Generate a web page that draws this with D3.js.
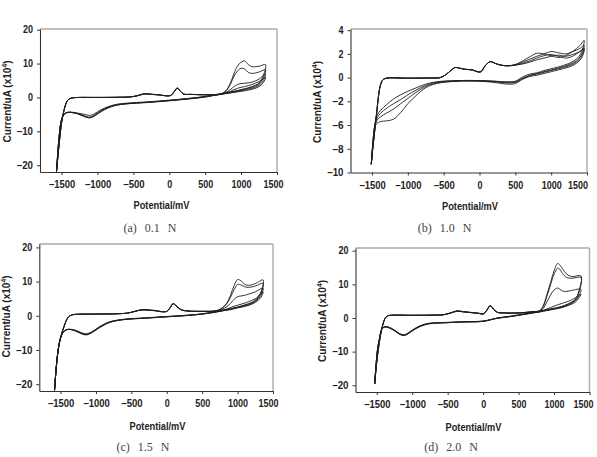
<!DOCTYPE html>
<html>
<head>
<meta charset="utf-8">
<script src="https://cdnjs.cloudflare.com/ajax/libs/d3/7.8.5/d3.min.js"></script>
<style>
  body { margin: 0; background: #fff; }
  .tick text, .axis-title {
    font-family: "Liberation Sans", Arial, sans-serif;
    font-weight: bold;
    fill: #222;
  }
  .tick text { font-size: 10.3px; }
  .axis-title { font-size: 10.5px; }
  .caption { font-family: "Liberation Serif", "DejaVu Serif", serif; font-size: 12px; fill: #444; word-spacing: 5px; }
  .domain, .tick line { stroke: #333; }
  .frame { stroke: #aaa; stroke-width: 1.4; }
  .cv { fill: none; stroke: #1e1e1e; stroke-width: 0.9; }
</style>
</head>
<body>
<svg id="chart" width="597" height="457"></svg>
<script>
// tick values shared by the four panels
var xTicks = [-1500, -1000, -500, 0, 500, 1000, 1500];
var yTicks20 = [20, 10, 0, -10, -20];
// panel (b) axis is printed with these labels at even 2-unit steps
var yTicksB = [4, 2, 0, -2, -4, -6, -8];
var yLabelsB = ["4", "2", "0", "\u22122", "\u22126", "\u22128", "\u221210"];
var captions = ["(a) 0.1 N", "(b) 1.0 N", "(c) 1.5 N", "(d) 2.0 N"];

// (a) 0.1 N : anodic sweep potentials (mV) and currents (x10^4 uA), one row per cycle
var aFwdE = [-1570, -1530, -1500, -1470, -1445, -1420, -1390, -1340, -1250, -1000, -700, -550, -450, -350, -250, -150, -50, 20, 70, 110, 150, 200, 300, 500, 700, 780, 850, 900, 950, 1000, 1050, 1100, 1150, 1250, 1340];
var aFwdI = [
  [-21.8, -13, -7.5, -4.2, -2.2, -1.0, -0.4, -0.1, 0, 0, 0.05, 0.15, 0.5, 1.1, 0.95, 0.8, 0.5, 0.6, 1.8, 2.8, 2.0, 1.0, 0.9, 0.8, 0.9, 1.8, 4.2, 7.0, 9.3, 10.4, 10.8, 9.7, 9.1, 9.2, 9.7],
  [-21.8, -13, -7.5, -4.2, -2.2, -1.0, -0.4, -0.1, 0, 0, 0.05, 0.15, 0.5, 1.1, 0.95, 0.8, 0.5, 0.6, 1.8, 2.8, 2.0, 1.0, 0.9, 0.8, 0.9, 1.7, 3.8, 6.2, 7.8, 8.6, 8.4, 7.4, 7.1, 7.5, 8.2],
  [-21.8, -13, -7.5, -4.2, -2.2, -1.0, -0.4, -0.1, 0, 0, 0.05, 0.15, 0.45, 1.0, 0.9, 0.75, 0.5, 0.6, 1.7, 2.7, 1.9, 1.0, 0.9, 0.8, 0.9, 1.4, 2.3, 3.2, 3.8, 4.1, 4.2, 4.3, 4.5, 5.4, 7.0],
  [-21.8, -13, -7.5, -4.2, -2.2, -1.0, -0.4, -0.1, 0, 0, 0.05, 0.15, 0.45, 1.0, 0.9, 0.75, 0.5, 0.6, 1.7, 2.7, 1.9, 1.0, 0.9, 0.8, 0.85, 1.2, 1.8, 2.3, 2.7, 3.0, 3.2, 3.5, 3.8, 4.7, 6.0]
];
// (a) cathodic sweep
var aRevE = [1340, 1310, 1250, 1150, 1000, 850, 700, 500, 250, 0, -300, -600, -750, -850, -950, -1050, -1110, -1180, -1280, -1380, -1440, -1480, -1510, -1540, -1570];
var aRevI = [
  [9.7, 6.5, 4.3, 3.2, 2.3, 1.6, 1.1, 0.3, -0.3, -0.8, -1.3, -1.7, -2.1, -2.7, -3.6, -4.9, -5.3, -5.0, -4.6, -4.3, -4.5, -5.4, -7.5, -13, -21.8],
  [8.2, 5.8, 4.0, 3.0, 2.2, 1.5, 1.0, 0.2, -0.4, -0.9, -1.4, -1.8, -2.2, -2.9, -3.9, -5.3, -5.8, -5.4, -4.7, -4.4, -4.6, -5.5, -7.5, -13, -21.8],
  [7.0, 5.0, 3.6, 2.7, 2.0, 1.4, 0.9, 0.2, -0.4, -0.9, -1.4, -1.9, -2.3, -3.0, -4.1, -5.5, -6.0, -5.6, -4.8, -4.4, -4.6, -5.5, -7.5, -13, -21.8],
  [6.0, 4.4, 3.2, 2.4, 1.8, 1.3, 0.9, 0.1, -0.5, -1.0, -1.5, -1.9, -2.4, -3.1, -4.2, -5.6, -6.0, -5.7, -4.8, -4.4, -4.6, -5.5, -7.5, -13, -21.8]
];

// (b) 1.0 N
var bFwdE = [-1510, -1490, -1470, -1450, -1430, -1410, -1385, -1350, -1300, -1000, -700, -550, -470, -400, -340, -280, -200, -100, -30, 20, 80, 150, 220, 300, 400, 500, 600, 700, 800, 900, 1000, 1100, 1200, 1300, 1400, 1460];
var bFwdI = [
  [-7.3, -6.0, -4.9, -3.8, -2.7, -1.6, -0.7, -0.2, -0.05, -0.05, -0.03, 0.0, 0.25, 0.6, 0.85, 0.8, 0.7, 0.65, 0.5, 0.5, 1.0, 1.35, 1.2, 1.05, 1.0, 1.1, 1.4, 1.75, 2.05, 2.0, 1.85, 1.7, 1.85, 2.2, 2.7, 3.15],
  [-7.3, -6.0, -4.9, -3.8, -2.7, -1.6, -0.7, -0.2, -0.05, -0.05, -0.03, 0.0, 0.25, 0.6, 0.85, 0.8, 0.7, 0.65, 0.5, 0.5, 1.0, 1.35, 1.2, 1.05, 1.0, 1.1, 1.3, 1.55, 1.8, 2.0, 2.2, 2.1, 2.0, 2.2, 2.45, 2.75],
  [-7.3, -6.0, -4.9, -3.8, -2.7, -1.6, -0.7, -0.2, -0.05, -0.05, -0.03, 0.0, 0.25, 0.6, 0.85, 0.8, 0.7, 0.65, 0.5, 0.5, 1.0, 1.35, 1.2, 1.05, 1.0, 1.05, 1.2, 1.4, 1.65, 1.85, 1.95, 1.8, 1.65, 1.8, 2.2, 2.5],
  [-7.3, -6.0, -4.9, -3.8, -2.7, -1.6, -0.7, -0.2, -0.05, -0.05, -0.03, 0.0, 0.25, 0.6, 0.85, 0.8, 0.7, 0.65, 0.5, 0.5, 1.0, 1.35, 1.2, 1.05, 1.0, 1.05, 1.15, 1.3, 1.5, 1.65, 1.8, 1.9, 1.8, 1.95, 2.2, 2.4]
];
var bRevE = [1460, 1420, 1350, 1250, 1100, 1000, 900, 800, 700, 600, 500, 400, 200, 0, -300, -600, -750, -900, -1000, -1100, -1200, -1300, -1380, -1430, -1460, -1490, -1510];
var bRevI = [
  [3.15, 2.1, 1.55, 1.2, 0.9, 0.75, 0.6, 0.4, 0.3, 0.05, -0.3, -0.35, -0.3, -0.25, -0.25, -0.35, -0.55, -0.9, -1.15, -1.45, -1.8, -2.3, -2.75, -3.2, -3.9, -5.6, -7.3],
  [2.75, 1.9, 1.4, 1.1, 0.8, 0.65, 0.5, 0.35, 0.2, -0.05, -0.35, -0.4, -0.3, -0.25, -0.25, -0.4, -0.65, -1.1, -1.45, -1.85, -2.2, -2.6, -3.0, -3.4, -4.0, -5.7, -7.3],
  [2.5, 1.75, 1.3, 1.0, 0.75, 0.6, 0.45, 0.3, 0.15, -0.1, -0.4, -0.45, -0.35, -0.3, -0.3, -0.45, -0.75, -1.3, -1.75, -2.2, -2.65, -3.0, -3.3, -3.6, -4.1, -5.7, -7.3],
  [2.4, 1.6, 1.2, 0.9, 0.65, 0.5, 0.35, 0.2, 0.1, -0.15, -0.5, -0.55, -0.4, -0.3, -0.3, -0.5, -0.85, -1.6, -2.2, -2.95, -3.5, -3.65, -3.7, -3.85, -4.2, -5.8, -7.3]
];

// (c) 1.5 N
var cFwdE = [-1585, -1560, -1530, -1500, -1470, -1440, -1410, -1380, -1330, -1250, -1000, -700, -550, -450, -350, -250, -150, -80, 0, 50, 90, 130, 200, 300, 500, 700, 780, 850, 900, 950, 1000, 1050, 1100, 1150, 1250, 1360];
var cFwdI = [
  [-21.8, -15, -9.5, -6.5, -4.3, -2.5, -1.0, -0.2, 0.3, 0.45, 0.5, 0.6, 0.8, 1.3, 1.8, 1.7, 1.5, 1.25, 1.3, 2.5, 3.6, 3.0, 1.8, 1.4, 1.3, 1.5, 2.3, 3.8, 6.0, 8.8, 10.6, 10.2, 9.2, 8.9, 9.4, 10.5],
  [-21.8, -15, -9.5, -6.5, -4.3, -2.5, -1.0, -0.2, 0.3, 0.45, 0.5, 0.6, 0.8, 1.3, 1.8, 1.7, 1.5, 1.25, 1.3, 2.5, 3.6, 3.0, 1.8, 1.4, 1.3, 1.5, 2.2, 3.6, 5.4, 7.6, 9.2, 9.0, 8.5, 8.3, 8.7, 9.5],
  [-21.8, -15, -9.5, -6.5, -4.3, -2.5, -1.0, -0.2, 0.3, 0.45, 0.5, 0.6, 0.8, 1.3, 1.7, 1.6, 1.45, 1.2, 1.3, 2.4, 3.5, 2.9, 1.8, 1.4, 1.3, 1.4, 1.9, 2.7, 3.6, 4.8, 5.6, 5.8, 6.0, 6.3, 7.0, 8.1],
  [-21.8, -15, -9.5, -6.5, -4.3, -2.5, -1.0, -0.2, 0.3, 0.45, 0.5, 0.6, 0.8, 1.3, 1.7, 1.6, 1.45, 1.2, 1.3, 2.4, 3.5, 2.9, 1.8, 1.4, 1.3, 1.3, 1.6, 2.0, 2.4, 2.8, 3.1, 3.4, 3.7, 4.1, 5.0, 7.0]
];
var cRevE = [1360, 1330, 1250, 1150, 1000, 900, 800, 700, 500, 300, 0, -300, -600, -800, -900, -980, -1060, -1140, -1200, -1280, -1360, -1420, -1460, -1500, -1530, -1560, -1585];
var cRevI = [
  [10.5, 7.0, 4.6, 3.5, 2.6, 2.1, 1.7, 1.3, 0.6, 0.2, -0.2, -0.6, -1.0, -1.7, -2.6, -3.6, -4.7, -5.3, -5.0, -4.3, -3.95, -4.1, -4.8, -6.5, -9.5, -15, -21.8],
  [9.5, 6.6, 4.4, 3.4, 2.5, 2.0, 1.6, 1.2, 0.55, 0.15, -0.25, -0.65, -1.05, -1.8, -2.7, -3.7, -4.8, -5.4, -5.1, -4.4, -4.0, -4.1, -4.8, -6.5, -9.5, -15, -21.8],
  [8.1, 6.0, 4.2, 3.2, 2.4, 1.9, 1.5, 1.1, 0.5, 0.1, -0.3, -0.7, -1.1, -1.85, -2.8, -3.8, -4.9, -5.5, -5.2, -4.5, -4.0, -4.1, -4.8, -6.5, -9.5, -15, -21.8],
  [7.0, 5.4, 3.9, 3.0, 2.3, 1.8, 1.5, 1.1, 0.5, 0.1, -0.3, -0.7, -1.1, -1.9, -2.9, -3.9, -5.0, -5.6, -5.3, -4.5, -4.0, -4.1, -4.8, -6.5, -9.5, -15, -21.8]
];

// (d) 2.0 N
var dFwdE = [-1530, -1505, -1480, -1455, -1430, -1405, -1380, -1350, -1300, -1000, -700, -550, -450, -370, -280, -150, -60, 0, 50, 100, 150, 200, 300, 500, 700, 800, 850, 900, 950, 1000, 1050, 1080, 1120, 1180, 1250, 1380];
var dFwdI = [
  [-19.6, -14, -9.5, -6.0, -3.3, -1.3, 0.0, 0.6, 0.8, 0.8, 0.85, 1.0, 1.6, 2.1, 1.9, 1.6, 1.4, 1.2, 2.3, 3.7, 2.6, 1.7, 1.5, 1.5, 1.9, 2.2, 3.8, 7.0, 10.5, 14.0, 16.2, 15.8, 14.6, 13.0, 12.3, 12.5],
  [-19.6, -14, -9.5, -6.0, -3.3, -1.3, 0.0, 0.6, 0.8, 0.8, 0.85, 1.0, 1.6, 2.1, 1.9, 1.6, 1.4, 1.2, 2.3, 3.7, 2.6, 1.7, 1.5, 1.5, 1.9, 2.1, 3.5, 6.5, 9.8, 13.0, 14.8, 14.5, 13.2, 12.0, 11.8, 12.0],
  [-19.6, -14, -9.5, -6.0, -3.3, -1.3, 0.0, 0.6, 0.8, 0.8, 0.85, 1.0, 1.5, 2.0, 1.8, 1.55, 1.35, 1.2, 2.2, 3.6, 2.5, 1.7, 1.5, 1.5, 1.8, 2.0, 2.9, 4.8, 6.8, 8.3, 8.9, 8.6, 8.0, 7.9, 8.2, 8.5],
  [-19.6, -14, -9.5, -6.0, -3.3, -1.3, 0.0, 0.6, 0.8, 0.8, 0.85, 1.0, 1.5, 2.0, 1.8, 1.55, 1.35, 1.2, 2.2, 3.6, 2.5, 1.7, 1.5, 1.5, 1.7, 1.8, 2.2, 2.7, 3.1, 3.5, 3.9, 4.1, 4.4, 4.8, 5.4, 7.0]
];
var dRevE = [1380, 1350, 1300, 1200, 1100, 1000, 900, 800, 650, 400, 200, 0, -300, -500, -700, -800, -900, -1000, -1070, -1120, -1180, -1250, -1330, -1390, -1430, -1460, -1490, -1530];
var dRevI = [
  [12.5, 8.0, 5.6, 4.2, 3.4, 2.9, 2.5, 2.1, 1.5, 0.6, 0.0, -0.9, -1.1, -1.3, -1.45, -1.7, -2.4, -3.6, -4.6, -5.0, -4.6, -3.6, -2.7, -2.6, -3.3, -6.0, -9.5, -19.6],
  [12.0, 7.5, 5.4, 4.1, 3.3, 2.8, 2.4, 2.0, 1.4, 0.5, -0.05, -0.95, -1.15, -1.35, -1.5, -1.8, -2.5, -3.7, -4.7, -5.1, -4.7, -3.7, -2.8, -2.65, -3.3, -6.0, -9.5, -19.6],
  [8.5, 6.6, 5.1, 3.9, 3.2, 2.7, 2.3, 1.9, 1.35, 0.5, -0.05, -1.0, -1.2, -1.4, -1.55, -1.85, -2.6, -3.8, -4.8, -5.2, -4.8, -3.8, -2.9, -2.7, -3.35, -6.0, -9.5, -19.6],
  [7.0, 5.9, 4.7, 3.7, 3.0, 2.6, 2.2, 1.8, 1.3, 0.45, -0.1, -1.0, -1.2, -1.4, -1.6, -1.9, -2.65, -3.85, -4.85, -5.2, -4.8, -3.8, -2.9, -2.7, -3.35, -6.0, -9.5, -19.6]
];

// layout of the four panels (pixel boxes, label anchors)
var panels = [
  { fwdE: aFwdE, fwdI: aFwdI, revE: aRevE, revI: aRevI, yDomain: [-22, 20.2], yTicks: yTicks20, yLabels: null,
    left: 40, right: 277, top: 29, bottom: 172, lastDx: 6, yTitle: [7.5, 101.5], xTitle: [161.5, 208.5], cap: [150, 232] },
  { fwdE: bFwdE, fwdI: bFwdI, revE: bRevE, revI: bRevI, yDomain: [-8, 4.1], yTicks: yTicksB, yLabels: yLabelsB,
    left: 350.5, right: 587, top: 29, bottom: 172.5, lastDx: 0.5, yTitle: [317.5, 102], xTitle: [470, 210], cap: [444.5, 232] },
  { fwdE: cFwdE, fwdI: cFwdI, revE: cRevE, revI: cRevI, yDomain: [-22, 21], yTicks: yTicks20, yLabels: null,
    left: 39.3, right: 273, top: 244, bottom: 391, lastDx: 5, yTitle: [6, 316.5], xTitle: [157.5, 430], cap: [143, 451] },
  { fwdE: dFwdE, fwdI: dFwdI, revE: dRevE, revI: dRevI, yDomain: [-22, 20.8], yTicks: yTicks20, yLabels: null,
    left: 355.5, right: 589.5, top: 248, bottom: 392, lastDx: 3.5, yTitle: [322.5, 321], xTitle: [473.5, 430.5], cap: [451, 451] }
];

var svg = d3.select("#chart");
var fmt = d3.format("d");

// the original uses a condensed bold face; squeeze the tick labels to its width
function squeeze(texts) {
  texts.each(function () {
    var t = d3.select(this);
    var s = t.text();
    var neg = s.charAt(0) === "\u2212";
    var w = (s.length - (neg ? 1 : 0)) * 5 + (neg ? 6.5 : 0);
    t.attr("textLength", w).attr("lengthAdjust", "spacingAndGlyphs");
  });
}

function drawPanel(p, idx) {
  var x = d3.scaleLinear().domain([-1800, 1500]).range([p.left, p.right]);
  var y = d3.scaleLinear().domain(p.yDomain).range([p.bottom, p.top]);
  var g = svg.append("g");

  // grey frame on top and right
  g.append("line").attr("class", "frame")
    .attr("x1", p.left).attr("x2", p.right).attr("y1", p.top).attr("y2", p.top);
  g.append("line").attr("class", "frame")
    .attr("x1", p.right).attr("x2", p.right).attr("y1", p.top).attr("y2", p.bottom);

  // axes
  var xg = g.append("g")
    .attr("transform", "translate(0," + p.bottom + ")")
    .call(d3.axisBottom(x).tickValues(xTicks).tickSize(3).tickSizeOuter(0).tickPadding(6).tickFormat(fmt));
  squeeze(xg.selectAll(".tick text"));
  // last label sits inside the page, pulled left like the original
  xg.selectAll(".tick text")
    .filter(function (d) { return d === 1500; })
    .attr("text-anchor", "end")
    .attr("dx", p.lastDx);

  var yAxis = d3.axisLeft(y).tickValues(p.yTicks).tickSize(3).tickSizeOuter(0).tickPadding(4);
  if (p.yLabels) {
    yAxis.tickFormat(function (d, i) { return p.yLabels[i]; });
  } else {
    yAxis.tickFormat(fmt);
  }
  var yg = g.append("g")
    .attr("transform", "translate(" + p.left + ",0)")
    .call(yAxis);
  squeeze(yg.selectAll(".tick text"));
  g.selectAll(".domain").attr("stroke-width", 1.1);

  // titles
  g.append("text").attr("class", "axis-title")
    .attr("x", p.xTitle[0]).attr("y", p.xTitle[1])
    .attr("text-anchor", "middle")
    .attr("textLength", 56).attr("lengthAdjust", "spacingAndGlyphs")
    .text("Potential/mV");

  var yt = g.append("text").attr("class", "axis-title")
    .attr("text-anchor", "middle")
    .attr("transform", "translate(" + p.yTitle[0] + "," + p.yTitle[1] + ")rotate(-90)")
    .attr("dy", "0.35em")
    .attr("textLength", 82).attr("lengthAdjust", "spacingAndGlyphs");
  yt.append("tspan").text("Current/uA (x10");
  yt.append("tspan").attr("dy", -4).style("font-size", "7px").text("4");
  yt.append("tspan").attr("dy", 4).text(")");

  g.append("text").attr("class", "caption")
    .attr("x", p.cap[0]).attr("y", p.cap[1])
    .attr("text-anchor", "middle")
    .text(captions[idx]);

  // cyclic voltammetry loops, one per cycle
  var line = d3.line()
    .x(function (d) { return x(d[0]); })
    .y(function (d) { return y(d[1]); })
    .curve(d3.curveCatmullRom.alpha(0.5));

  p.fwdI.forEach(function (cur, k) {
    var pts = p.fwdE.map(function (e, i) { return [e, cur[i]]; });
    var back = p.revE.map(function (e, i) { return [e, p.revI[k][i]]; }).slice(1);
    g.append("path").attr("class", "cv").attr("d", line(pts.concat(back)));
  });
}

panels.forEach(drawPanel);
</script>
</body>
</html>
